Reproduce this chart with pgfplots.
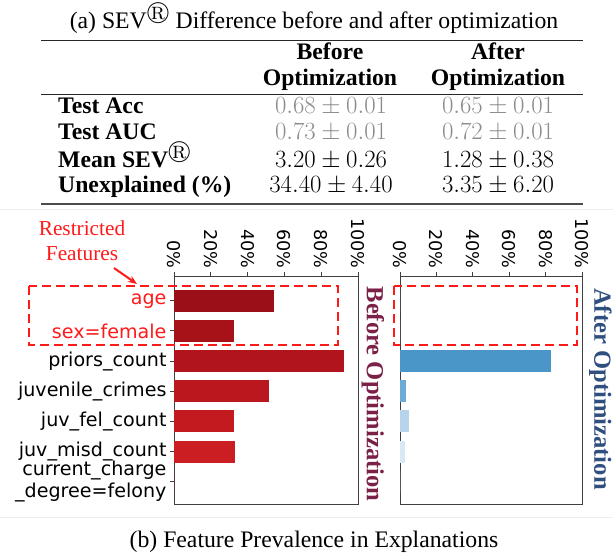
\documentclass[border=0pt]{standalone}
\usepackage{amssymb}
\usepackage{fontspec}
\setmainfont{Liberation Serif}
\newfontfamily\dejavu{DejaVu Sans}
\usepackage{pgfplots}
\pgfplotsset{compat=1.18}
\usetikzlibrary{arrows.meta}

\definecolor{r1}{HTML}{9B0F18}
\definecolor{r2}{HTML}{A71219}
\definecolor{r3}{HTML}{B1141C}
\definecolor{r4}{HTML}{BA171E}
\definecolor{r5}{HTML}{C31A20}
\definecolor{r6}{HTML}{CB1E23}
\definecolor{b1}{HTML}{4A96C9}
\definecolor{b2}{HTML}{6EAAD6}
\definecolor{b3}{HTML}{B7D4EC}
\definecolor{b4}{HTML}{D9E8F5}
\definecolor{beforec}{HTML}{7B2148}
\definecolor{afterc}{HTML}{2F4F7F}
\definecolor{restr}{HTML}{FF1A1A}
\definecolor{tgray}{HTML}{8C8C8C}

\pgfplotsset{
  barax/.style={
    xbar, scale only axis, clip=false,
    xmin=0, xmax=100, ymin=-0.82, ymax=6.74, y dir=reverse,
    xtick={0,20,40,60,80,100},
    xticklabels={0\%,20\%,40\%,60\%,80\%,100\%},
    xtick pos=right, xticklabel pos=right,
    xticklabel style={rotate=-90, anchor=east, font=\dejavu\fontsize{17.6bp}{20bp}\selectfont},
    tick align=outside, major tick length=4bp,
    axis line style={black!75, line width=0.8bp},
    tick style={black!75, line width=0.8bp},
    bar width=0.73,
  }
}

\begin{document}
\begin{tikzpicture}
\path[use as bounding box] (0,0) rectangle (613bp,-557bp);

% ---------- (a) table ----------
\begin{scope}[every node/.style={inner sep=0pt, font=\fontsize{23.7bp}{26bp}\selectfont}]
\node[anchor=base] at (314bp,-28.5bp) {(a) SEV$^{\circledR}$ Difference before and after optimization};
\draw[line width=1.2bp, black!85] (41bp,-40.7bp) -- (583bp,-40.7bp);
\node[anchor=base] at (330bp,-59bp) {\bfseries Before};
\node[anchor=base] at (330bp,-85bp) {\bfseries Optimization};
\node[anchor=base] at (498bp,-59bp) {\bfseries After};
\node[anchor=base] at (498bp,-85bp) {\bfseries Optimization};
\draw[line width=0.8bp, black!85] (41bp,-94.3bp) -- (583bp,-94.3bp);
\node[anchor=base west] at (58bp,-113bp) {\bfseries Test Acc};
\node[anchor=base west] at (58bp,-139.5bp) {\bfseries Test AUC};
\node[anchor=base west] at (58bp,-167bp) {\bfseries Mean SEV$^{\circledR}$};
\node[anchor=base west] at (58bp,-192bp) {\bfseries Unexplained (\%)};
\node[anchor=base, text=tgray] at (331bp,-113bp) {$0.68 \pm 0.01$};
\node[anchor=base, text=tgray] at (331bp,-139.5bp) {$0.73 \pm 0.01$};
\node[anchor=base] at (331bp,-167bp) {$3.20 \pm 0.26$};
\node[anchor=base] at (331bp,-192bp) {$34.40 \pm 4.40$};
\node[anchor=base, text=tgray] at (498bp,-113bp) {$0.65 \pm 0.01$};
\node[anchor=base, text=tgray] at (498bp,-139.5bp) {$0.72 \pm 0.01$};
\node[anchor=base] at (498bp,-167bp) {$1.28 \pm 0.38$};
\node[anchor=base] at (498bp,-192bp) {$3.35 \pm 6.20$};
\draw[line width=1.5bp, black!70] (41bp,-204bp) -- (583bp,-204bp);
\end{scope}

\draw[black!7, line width=1bp] (0,-209.5bp) -- (613bp,-209.5bp);
\draw[black!7, line width=1bp] (0,-517bp) -- (613bp,-517bp);

% ---------- (b) before ----------
\begin{axis}[barax, at={(174bp,-276bp)}, anchor=north west,
  width=184bp, height=228bp,
  ytick={0,1,2,3,4,5,6},
  ytick pos=left,
  yticklabel style={align=right, font=\dejavu\fontsize{19.1bp}{22bp}\selectfont},
  yticklabels={{\textcolor{restr}{age}},{\textcolor{restr}{sex=female}},{priors\_count},{juvenile\_crimes},{juv\_fel\_count},{juv\_misd\_count},{current\_charge\\\_degree=felony}},
]
\addplot[fill=r1, draw=none, bar shift=0pt] coordinates {(54.3,0)};
\addplot[fill=r2, draw=none, bar shift=0pt] coordinates {(32.6,1)};
\addplot[fill=r3, draw=none, bar shift=0pt] coordinates {(92.5,2)};
\addplot[fill=r4, draw=none, bar shift=0pt] coordinates {(51.7,3)};
\addplot[fill=r5, draw=none, bar shift=0pt] coordinates {(32.6,4)};
\addplot[fill=r6, draw=none, bar shift=0pt] coordinates {(33.2,5)};
\addplot[fill=r6, draw=none, bar shift=0pt] coordinates {(0,6)};
\end{axis}

% ---------- (b) after ----------
\begin{axis}[barax, at={(400bp,-276bp)}, anchor=north west,
  width=182bp, height=228bp,
  ytick=\empty,
]
\addplot[fill=b1, draw=none, bar shift=0pt] coordinates {(0,0)};
\addplot[fill=b1, draw=none, bar shift=0pt] coordinates {(0,1)};
\addplot[fill=b1, draw=none, bar shift=0pt] coordinates {(83.0,2)};
\addplot[fill=b2, draw=none, bar shift=0pt] coordinates {(3.1,3)};
\addplot[fill=b3, draw=none, bar shift=0pt] coordinates {(4.8,4)};
\addplot[fill=b4, draw=none, bar shift=0pt] coordinates {(2.7,5)};
\addplot[fill=b4, draw=none, bar shift=0pt] coordinates {(0,6)};
\end{axis}

\node[rotate=-90, inner sep=0pt, text=beforec, font=\bfseries\fontsize{24.6bp}{28bp}\selectfont] at (373bp,-394bp) {Before Optimization};
\node[rotate=-90, inner sep=0pt, text=afterc, font=\bfseries\fontsize{24.6bp}{28bp}\selectfont] at (600.5bp,-389bp) {After Optimization};

% restricted features annotation
\draw[restr, line width=2bp, dash pattern=on 9bp off 5bp] (29bp,-286bp) rectangle (338bp,-345bp);
\draw[restr, line width=2bp, dash pattern=on 9bp off 5bp] (394bp,-286bp) rectangle (577bp,-345bp);
\node[anchor=base, inner sep=0pt, text=restr, font=\fontsize{21.3bp}{24bp}\selectfont] at (82bp,-235bp) {Restricted};
\node[anchor=base, inner sep=0pt, text=restr, font=\fontsize{21.3bp}{24bp}\selectfont] at (82bp,-260bp) {Features};
\draw[restr, line width=2bp, -{Stealth[length=9bp,width=7bp]}] (114bp,-268bp) -- (137bp,-284bp);

\node[anchor=base, inner sep=0pt, font=\fontsize{23.7bp}{26bp}\selectfont] at (314bp,-547bp) {(b) Feature Prevalence in Explanations};
\end{tikzpicture}
\end{document}
